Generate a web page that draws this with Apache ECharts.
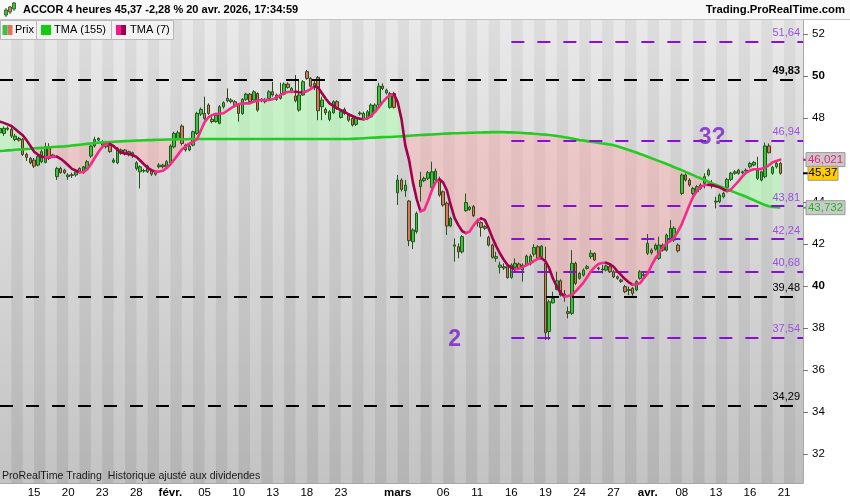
<!DOCTYPE html>
<html><head><meta charset="utf-8">
<script src="https://cdn.jsdelivr.net/npm/echarts@6/dist/echarts.min.js"></script>
<style>html,body{margin:0;padding:0;background:#fff}#c{width:850px;height:500px}</style>
</head><body><div id="c"></div>
<script>
// ---------- DATA ----------
const janDays = [12,13,14,15,16,19,20,21,22,23,26,27,28,29,30];
const febDays = [2,3,4,5,6,9,10,11,12,13,16,17,18,19,20,23,24,25,26,27];
const marDays = [2,3,4,5,6,9,10,11,12,13,16,17,18,19,20,23,24,25,26,27,30,31];
const aprDays = [1,2,7,8,9,10,13,14,15,16,17,20,21,22];
const sessions = ['09:00','13:00','17:00'];
const tickDates = ['01-15','01-20','01-23','01-28','02-02','02-05','02-10','02-13','02-18','02-23','03-02','03-06','03-11','03-16','03-19','03-24','03-27','04-01','04-08','04-13','04-16','04-21'];
const tickTexts = ['15','20','23','28','févr.','05','10','13','18','23','mars','06','11','16','19','24','27','avr.','08','13','16','21'];
const priceTicks = [32,34,36,38,40,42,44,46,48,50,52];

const open = [
47.30,47.27,47.52,47.46,46.98,47.03,46.98,46.27,46.08,46.00,
45.76,45.92,45.89,46.63,46.24,45.21,45.60,45.52,45.21,45.30,
45.29,45.60,45.40,45.60,46.19,46.67,46.95,46.71,46.63,46.71,
45.90,45.87,46.32,46.48,46.24,46.19,45.60,45.44,45.50,45.44,
45.49,45.33,45.68,45.76,45.68,45.87,46.63,46.98,47.62,46.48,
46.48,46.71,47.27,48.19,48.22,48.62,47.94,47.83,47.75,48.54,
48.94,48.78,48.78,48.62,48.22,48.89,49.14,48.86,49.17,48.86,
48.78,48.94,49.25,48.89,49.10,49.14,49.62,49.25,49.05,48.38,
49.10,50.21,49.89,49.49,49.94,48.54,48.41,47.94,48.25,48.78,
48.03,48.41,48.14,47.98,47.70,48.20,47.94,47.98,48.06,48.30,
48.62,49.52,49.20,48.51,49.17,44.44,45.05,44.54,44.05,42.11,
42.59,44.73,45.02,45.13,44.70,45.05,45.08,44.49,43.94,42.86,
41.90,41.87,41.63,43.59,43.65,43.78,43.14,43.02,42.75,42.32,
41.95,41.32,40.89,40.92,40.92,40.41,40.89,41.05,40.76,41.00,
41.05,41.52,41.87,41.40,41.08,37.83,39.20,39.84,40.25,39.62,
38.78,38.70,41.08,40.37,40.52,40.84,41.40,41.56,40.86,40.81,
40.76,40.92,40.68,40.44,40.29,39.97,39.83,39.89,39.81,40.37,
40.54,41.56,41.71,41.75,41.32,41.95,41.71,42.27,42.19,41.95,
44.41,45.29,45.05,44.41,44.49,44.65,44.89,45.29,44.89,44.04,
44.02,44.25,44.70,45.08,45.37,45.37,45.44,45.48,45.68,45.76,
45.13,45.05,45.21,46.67,45.37,45.68,45.84];
const close = [
47.50,47.51,47.47,47.14,47.14,46.95,46.27,46.13,45.87,45.71,
46.16,46.40,46.63,46.08,46.16,45.60,45.40,45.40,45.29,45.27,
45.44,45.44,45.68,45.92,46.67,46.98,47.03,46.87,46.87,46.40,
46.00,46.56,46.48,46.29,46.40,46.35,45.87,45.68,45.48,45.71,
45.33,45.42,45.76,45.68,45.92,46.67,47.27,47.30,46.79,46.71,
46.67,47.35,48.22,48.41,47.98,48.22,47.83,48.14,48.54,48.73,
48.83,48.86,48.57,48.22,48.89,49.14,48.78,49.25,48.38,48.83,
48.89,49.25,49.10,49.10,48.94,49.62,49.46,49.41,48.83,49.10,
49.73,49.89,49.52,49.65,48.35,48.86,48.25,48.30,48.78,48.49,
48.30,48.22,47.90,47.67,48.03,48.24,48.22,48.30,48.62,48.62,
49.52,49.41,49.33,49.17,48.51,45.05,44.60,44.81,42.16,42.67,
43.46,45.05,45.13,45.40,45.44,45.48,44.33,43.86,42.86,43.22,
41.96,41.63,42.35,43.98,43.75,43.35,43.02,42.79,42.83,41.95,
41.37,41.40,41.00,40.86,40.40,41.00,41.08,40.84,41.00,41.43,
41.43,41.84,41.32,41.90,37.78,39.25,39.40,40.25,39.57,39.52,
38.70,41.08,40.13,40.60,40.76,40.92,41.56,41.24,40.82,40.77,
40.95,40.68,40.44,40.37,40.22,39.73,39.79,39.65,40.21,40.68,
40.50,42.03,41.59,41.95,41.95,41.71,42.43,42.75,42.75,41.68,
45.29,45.05,44.81,44.65,44.73,44.81,45.21,45.52,44.76,44.00,
44.33,44.41,45.08,45.37,45.44,45.52,45.40,45.52,45.84,45.89,
45.52,45.44,46.67,46.35,45.65,45.84,45.37];
const low = [
47.20,47.15,47.40,47.05,46.90,46.88,46.20,45.95,45.80,45.62,
45.70,45.85,45.84,46.00,46.10,45.05,45.35,45.33,45.05,45.15,
45.21,45.40,45.35,45.55,46.10,46.60,46.90,46.65,46.55,46.35,
45.85,45.80,46.25,46.22,46.18,46.10,45.50,44.65,45.40,45.38,
45.25,45.25,45.60,45.60,45.62,45.82,46.55,46.92,46.70,46.40,
46.42,46.65,47.20,48.10,47.90,48.15,47.75,47.78,47.70,48.45,
48.75,48.70,48.50,47.83,48.15,48.82,48.70,48.80,48.30,48.75,
48.70,48.88,49.02,48.82,48.88,49.08,49.40,49.18,48.75,48.30,
49.05,49.82,49.45,49.33,47.90,47.90,48.15,47.85,48.20,48.40,
47.98,48.15,47.82,47.60,47.62,48.12,47.88,47.90,48.00,48.25,
48.55,49.33,49.12,48.45,48.45,43.86,44.50,44.25,41.90,41.76,
42.50,44.02,44.95,45.05,44.65,45.00,44.25,43.78,42.43,42.80,
41.16,41.32,41.55,43.54,43.58,43.28,42.83,42.35,42.67,41.88,
41.30,41.16,40.60,40.76,40.35,40.35,40.68,40.76,40.21,40.95,
40.98,41.40,41.25,41.30,37.43,37.43,39.17,39.80,39.50,39.25,
38.46,38.62,40.05,40.30,40.45,40.78,41.30,41.20,40.75,40.60,
40.70,40.62,40.38,40.30,40.15,39.66,39.57,39.54,39.75,40.30,
40.42,41.48,41.50,41.68,41.25,41.64,41.64,42.19,42.10,41.60,
44.33,44.98,44.73,44.33,44.41,44.58,44.65,45.22,44.65,43.70,
43.95,44.18,44.62,45.00,45.30,45.30,45.33,45.29,45.60,45.70,
45.05,44.98,45.13,46.32,45.30,45.60,45.30];
const high = [
47.60,47.60,47.60,47.55,47.25,47.10,47.05,46.35,46.15,46.10,
46.25,46.50,46.83,46.80,46.30,45.68,45.68,45.58,45.37,45.40,
45.50,45.65,45.72,46.00,46.70,47.11,47.08,46.95,46.92,46.80,
46.10,46.62,46.55,46.52,46.45,46.40,45.95,45.75,45.58,45.78,
45.55,45.48,45.85,45.82,46.00,46.75,47.35,47.40,47.70,46.78,
46.75,47.40,48.30,48.50,49.02,48.70,48.05,48.25,48.62,48.80,
49.41,48.95,48.85,48.70,48.95,49.20,49.20,49.33,49.22,48.95,
48.95,49.33,49.73,49.17,49.68,49.70,49.70,49.48,50.05,49.81,
49.81,50.29,49.95,49.81,50.00,49.02,48.50,48.38,48.85,48.85,
48.38,48.50,48.22,48.05,48.10,48.32,48.30,48.38,48.70,48.70,
49.68,49.65,49.40,49.25,49.25,45.29,45.13,45.05,44.10,42.75,
43.55,45.44,45.21,45.48,45.92,45.60,45.21,44.55,44.02,43.30,
42.27,42.03,42.43,44.41,43.82,43.86,43.22,43.08,42.90,42.40,
42.02,41.63,41.16,41.08,41.00,41.08,41.32,41.12,41.08,41.50,
41.52,42.00,41.95,41.95,41.87,39.35,39.73,40.68,40.32,39.81,
39.02,41.71,41.16,40.68,40.84,41.00,41.71,41.60,40.92,41.00,
41.02,41.00,40.75,40.50,40.35,40.05,39.97,39.95,40.28,40.76,
40.62,42.48,41.80,42.03,42.35,42.03,42.50,43.14,42.85,42.03,
45.37,45.37,45.13,44.73,44.81,44.89,45.37,45.60,45.05,44.25,
44.41,44.49,45.15,45.44,45.52,45.58,45.50,45.60,45.92,45.95,
46.16,45.50,46.83,46.79,45.72,45.92,45.92];
const tma155 = [
46.43,46.44,46.46,46.47,46.49,46.50,46.51,46.53,46.54,46.56,
46.57,46.58,46.59,46.61,46.62,46.63,46.64,46.65,46.67,
46.69,46.71,46.73,46.75,46.77,46.79,46.81,46.83,
46.84,46.85,46.86,46.87,46.88,46.89,46.90,46.91,46.92,
46.93,46.93,46.94,46.95,46.95,46.96,46.97,46.97,46.98,
46.98,46.98,46.99,46.99,46.99,47.00,47.00,47.00,47.00,
47.00,47.00,47.00,47.00,47.00,47.00,47.00,47.00,47.00,47.00,
47.00,47.00,47.00,47.00,47.00,47.00,47.00,47.00,47.00,47.00,
47.00,47.00,47.00,47.00,47.00,47.00,47.00,47.00,47.00,47.00,
47.00,47.00,47.00,47.00,47.00,47.00,47.00,47.00,47.00,
47.01,47.02,47.03,47.04,47.05,47.06,47.07,47.08,
47.09,47.10,47.10,47.11,
47.12,47.13,47.14,47.16,47.17,47.18,47.19,
47.20,47.21,47.22,47.23,47.24,47.25,47.26,47.27,
47.28,47.28,47.29,47.29,47.30,
47.30,47.31,47.31,47.32,47.32,47.33,47.33,47.33,
47.33,47.32,47.32,47.31,47.30,47.29,47.28,47.27,
47.25,47.24,47.22,47.21,47.19,47.17,47.15,
47.12,47.09,47.06,47.03,46.99,46.95,
46.93,46.90,46.87,46.85,46.82,46.79,46.77,46.74,46.71,
46.66,46.60,46.54,46.48,46.42,46.36,46.29,46.23,46.16,
46.09,46.02,45.95,45.88,45.81,45.74,45.66,45.59,45.52,
45.44,45.36,45.28,45.20,45.13,45.05,44.97,44.89,
44.82,44.75,44.68,44.61,44.53,44.46,44.39,44.32,44.25,
44.17,44.09,44.01,43.93,43.86,43.80,43.77,43.75,43.73];
const tma7 = [
47.83,47.77,47.70,47.62,47.48,47.33,47.18,46.95,46.68,46.40,
46.26,46.16,46.13,46.13,46.15,46.16,46.06,45.92,45.75,45.58,
45.50,45.42,45.42,45.55,45.80,46.10,46.38,46.62,46.76,46.77,
46.66,46.50,46.36,46.31,46.30,46.24,46.15,45.98,45.80,45.63,
45.52,45.45,45.45,45.49,45.62,45.80,46.02,46.26,46.50,46.65,
46.78,46.88,46.98,47.40,47.80,48.03,48.14,48.19,48.21,48.23,
48.35,48.47,48.60,48.66,48.70,48.70,48.70,48.78,48.84,48.86,
48.86,48.86,48.90,48.97,49.10,49.19,49.24,49.25,49.25,49.23,
49.22,49.28,49.38,49.50,49.45,49.18,48.92,48.70,48.58,48.46,
48.38,48.30,48.18,48.10,48.02,47.97,47.94,47.98,48.10,48.30,
48.52,48.76,48.95,49.10,49.14,48.75,47.95,46.70,46.00,44.95,
44.15,43.56,43.62,44.05,44.55,44.95,45.08,44.93,44.55,43.85,
43.25,42.90,42.62,42.52,42.60,42.88,43.10,43.22,43.15,42.75,
42.30,41.90,41.55,41.25,41.00,40.87,40.80,40.82,40.90,41.00,
41.08,41.20,41.29,41.32,41.18,40.85,40.35,39.98,39.68,39.50,
39.52,39.57,39.75,39.95,40.15,40.42,40.70,40.90,41.05,41.10,
41.11,41.04,40.92,40.70,40.52,40.33,40.18,40.06,40.08,40.13,
40.38,40.60,40.98,41.30,41.58,41.85,42.03,42.15,42.30,42.60,
42.95,43.40,43.85,44.25,44.55,44.72,44.80,44.82,44.81,44.75,
44.70,44.60,44.52,44.60,44.80,45.00,45.22,45.40,45.50,45.56,
45.56,45.58,45.65,45.75,45.90,45.96,46.02];
const levelValues = [51.64, 49.83, 46.94, 43.81, 42.24, 40.68, 39.48, 37.54, 34.29];
const levelKinds  = ['p','k','p','p','p','p','k','p','k'];
const levelBold   = [false,true,false,false,false,false,false,false,false];
const purpleStart = 135;
const annTexts = ['2','3?'];
const annIdx = [120, 188];
const annValues = [37.43, 47.05];
const lastPrice = 45.37, lastTma7 = 46.021, lastTma155 = 43.732;
const lastPriceText = '45,37', lastTma7Text = '46,021', lastTma155Text = '43,732';

// ---------- BUILD ----------
const FONT = '"Liberation Sans", Arial, sans-serif';
const days = [];
janDays.forEach(d=>days.push('01-'+String(d).padStart(2,'0')));
febDays.forEach(d=>days.push('02-'+String(d).padStart(2,'0')));
marDays.forEach(d=>days.push('03-'+String(d).padStart(2,'0')));
aprDays.forEach(d=>days.push('04-'+String(d).padStart(2,'0')));
const cats = [];
days.forEach(d=>sessions.forEach(s=>cats.push(d+' '+s)));
const lastCat = cats.length - 1;
const tickMap = {};
tickDates.forEach((d,i)=>tickMap[d+' 09:00']=tickTexts[i]);
const candles = open.map((o,i)=>[o, close[i], low[i], high[i]]);
const fmt = v => v.toFixed(2).replace('.', ',');

const GREEN_FILL = 'rgba(175,255,175,0.52)';
const RED_FILL = 'rgba(255,165,165,0.40)';

function fillRender(params, api) {
  const n = tma7.length;
  const pa = i => api.coord([i, tma7[i]]);
  const pb = i => api.coord([i, tma155[i]]);
  const runs = [];
  let cur = null;
  for (let i = 0; i < n; i++) {
    const d = tma7[i] - tma155[i];
    const s = d >= 0 ? 1 : -1;
    if (!cur) { cur = {s, top:[pa(i)], bot:[pb(i)]}; continue; }
    if (s === cur.s) { cur.top.push(pa(i)); cur.bot.push(pb(i)); }
    else {
      const dp = tma7[i-1] - tma155[i-1];
      const t = dp / (dp - d);
      const A = pa(i-1), B = pa(i);
      const X = [A[0] + t*(B[0]-A[0]), A[1] + t*(B[1]-A[1])];
      cur.top.push(X); cur.bot.push(X); runs.push(cur);
      cur = {s, top:[X, pa(i)], bot:[X, pb(i)]};
    }
  }
  runs.push(cur);
  return {type:'group', silent:true, children: runs.map(r=>({
    type:'polygon', shape:{points: r.top.concat(r.bot.slice().reverse())},
    style:{fill: r.s > 0 ? GREEN_FILL : RED_FILL}
  }))};
}

function tma7Render(params, api) {
  const n = tma7.length;
  const children = [];
  let pts = [api.coord([0, tma7[0]])];
  let dir = tma7[1] >= tma7[0];
  for (let i = 1; i < n; i++) {
    const d = tma7[i] >= tma7[i-1];
    if (d !== dir) {
      children.push({pts, dir});
      pts = [api.coord([i-1, tma7[i-1]])];
      dir = d;
    }
    pts.push(api.coord([i, tma7[i]]));
  }
  children.push({pts, dir});
  return {type:'group', silent:true, children: children.map(c=>({
    type:'polyline', shape:{points:c.pts},
    style:{stroke: c.dir ? '#f52a8a' : '#a3004f', lineWidth:2.6, lineJoin:'round', lineCap:'round', fill:null}
  }))};
}

const levelLines = levelValues.map((v,i)=>{
  const purple = levelKinds[i] === 'p';
  return [
    {coord:[purple ? purpleStart : 0, v],
     lineStyle:{color: purple ? '#8a0fd6' : '#000', width:2, type:[13,13]},
     label:{show:true, position:'insideEndTop', distance:3, formatter: fmt(v),
            color: purple ? '#9a52dc' : '#000', fontSize:11, fontFamily:FONT,
            fontWeight: levelBold[i] ? 'bold' : 'normal'}},
    {coord:[lastCat, v]}
  ];
});

const chart = echarts.init(document.getElementById('c'), null, {renderer:'canvas'});
chart.setOption({
  animation:false,
  backgroundColor:'#ffffff',
  grid:{left:0, right:47, top:20, bottom:17, show:true, borderWidth:0,
    backgroundColor:{type:'linear', x:0, y:0, x2:0, y2:1,
      colorStops:[{offset:0,color:'#e7e7e7'},{offset:1,color:'#bdbdbd'}]}},
  xAxis:{type:'category', data:cats, boundaryGap:false,
    axisLine:{show:true, lineStyle:{color:'#a8a8a8'}},
    axisTick:{show:false},
    axisLabel:{interval:(idx,val)=>tickMap[val]!==undefined, margin:4, color:'#000', fontSize:11.5, fontFamily:FONT,
      formatter:(val)=>{const t=tickMap[val]; if(t===undefined) return ''; return /[a-z]/.test(t) ? '{b|'+t+'}' : t;},
      rich:{b:{fontWeight:'bold', fontSize:11.5, fontFamily:FONT, color:'#000'}}},
    splitLine:{show:false},
    splitArea:{show:true, interval:2, areaStyle:{color:['rgba(255,255,255,0.10)','rgba(0,0,0,0.045)']}}
  },
  yAxis:{type:'value', position:'right', min:30.62, max:52.67, scale:true,
    axisLine:{show:true, lineStyle:{color:'#a8a8a8'}},
    axisTick:{show:true, length:5, customValues:priceTicks, lineStyle:{color:'#777'}},
    axisLabel:{customValues:priceTicks, margin:9, color:'#000', fontSize:11.5, fontFamily:FONT,
      formatter:v=> (v===40||v===50) ? '{b|'+v+'}' : String(v),
      rich:{b:{fontWeight:'bold', fontSize:11.5, fontFamily:FONT, color:'#000'}}},
    splitLine:{show:false}
  },
  series:[
    {type:'custom', name:'fill', z:1, renderItem:fillRender, data:[[0, tma7[0]]], encode:{x:0,y:1}, silent:true},
    {type:'line', name:'levels', z:2, data:[], symbol:'none',
      markLine:{silent:true, symbol:['none','none'], animation:false, data:levelLines}},
    {type:'candlestick', name:'Prix', z:3, data:candles, barWidth:3,
      itemStyle:{color:'#3cc23c', color0:'#e5705c', borderColor:'#1f5a1c', borderColor0:'#2e4a1c', borderWidth:1}},
    {type:'line', name:'TMA (155)', z:4, data:tma155, symbol:'none', silent:true,
      lineStyle:{color:'#22cc22', width:2.6}},
    {type:'custom', name:'TMA (7)', z:5, renderItem:tma7Render, data:[[0, tma7[0]]], encode:{x:0,y:1}, silent:true},
    {type:'scatter', name:'ann', z:6, symbolSize:1, itemStyle:{color:'rgba(0,0,0,0)'},
      data: annIdx.map((x,i)=>[x, annValues[i]]),
      label:{show:true, position:'inside', formatter:p=>annTexts[p.dataIndex], color:'#7a1ec8', fontSize:23, fontWeight:'bold', fontFamily:FONT}}
  ]
});

// ---------- OVERLAY (header, legend, price tags) ----------
const yPix = v => chart.convertToPixel({yAxisIndex:0}, v);
function tag(v, text, fg, bg, x0, w, tickColor) {
  const y = yPix(v);
  return [
    {type:'line', shape:{x1:803, y1:y, x2:809, y2:y}, style:{stroke:tickColor, lineWidth:2}, z:100},
    {type:'rect', shape:{x:x0, y:y-7, width:w, height:14}, style:{fill:bg, stroke:'#9a9a9a', lineWidth:1}, z:100},
    {type:'text', x:x0+w/2, y:y, style:{text:text, fill:fg, font:'11.5px '+FONT, align:'center', verticalAlign:'middle'}, z:101}
  ];
}
const g = [
  {type:'rect', shape:{x:0,y:0,width:850,height:20}, style:{fill:'#f8f8f8'}, z:90},
  {type:'line', shape:{x1:0,y1:19.5,x2:850,y2:19.5}, style:{stroke:'#c4c4c4', lineWidth:1}, z:91},
  // title icon
  {type:'line', shape:{x1:6,y1:8,x2:6,y2:17}, style:{stroke:'#1f5a1c', lineWidth:1}, z:92},
  {type:'rect', shape:{x:4.5,y:10,width:3,height:5}, style:{fill:'#3cc23c', stroke:'#1f5a1c', lineWidth:0.8}, z:93},
  {type:'line', shape:{x1:10,y1:6,x2:10,y2:14}, style:{stroke:'#1f5a1c', lineWidth:1}, z:92},
  {type:'rect', shape:{x:8.5,y:7,width:3,height:5}, style:{fill:'#e5705c', stroke:'#1f5a1c', lineWidth:0.8}, z:93},
  {type:'line', shape:{x1:14,y1:2,x2:14,y2:11}, style:{stroke:'#1f5a1c', lineWidth:1}, z:92},
  {type:'rect', shape:{x:12.5,y:3,width:3,height:6}, style:{fill:'#3cc23c', stroke:'#1f5a1c', lineWidth:0.8}, z:93},
  {type:'text', x:23, y:10, style:{text:'ACCOR 4 heures 45,37 -2,28 % 20 avr. 2026, 17:34:59', fill:'#000', font:'bold 11px '+FONT, verticalAlign:'middle'}, z:93},
  {type:'text', x:845, y:10, style:{text:'Trading.ProRealTime.com', fill:'#000', font:'bold 11.3px '+FONT, align:'right', verticalAlign:'middle'}, z:93},
  // legend boxes
  {type:'rect', shape:{x:0.5,y:20.5,width:36,height:19}, style:{fill:'#f2f2f2', stroke:'#b8b8b8', lineWidth:1}, z:92},
  {type:'rect', shape:{x:2.5,y:25,width:5,height:10}, style:{fill:'#3cc23c'}, z:93},
  {type:'rect', shape:{x:7.5,y:25,width:5,height:10}, style:{fill:'#e5705c'}, z:93},
  {type:'text', x:15, y:30, style:{text:'Prix', fill:'#000', font:'11px '+FONT, verticalAlign:'middle'}, z:93},
  {type:'rect', shape:{x:36.5,y:20.5,width:75,height:19}, style:{fill:'#f2f2f2', stroke:'#b8b8b8', lineWidth:1}, z:92},
  {type:'rect', shape:{x:41,y:25,width:10,height:10}, style:{fill:'#11cc11'}, z:93},
  {type:'text', x:54, y:30, style:{text:'TMA (155)', fill:'#000', font:'11px '+FONT, verticalAlign:'middle'}, z:93},
  {type:'rect', shape:{x:111.5,y:20.5,width:62,height:19}, style:{fill:'#f2f2f2', stroke:'#b8b8b8', lineWidth:1}, z:92},
  {type:'rect', shape:{x:116,y:25,width:5,height:10}, style:{fill:'#f21a86'}, z:93},
  {type:'rect', shape:{x:121,y:25,width:5,height:10}, style:{fill:'#9c0050'}, z:93},
  {type:'text', x:130, y:30, style:{text:'TMA (7)', fill:'#000', font:'11px '+FONT, verticalAlign:'middle'}, z:93},
  // footer note
  {type:'text', x:2, y:476, style:{text:'ProRealTime Trading  Historique ajusté aux dividendes', fill:'#1a1a1a', font:'10.6px '+FONT, verticalAlign:'middle'}, z:93}
].concat(
  tag(lastTma7, lastTma7Text, '#e8227a', '#c9c9c9', 806, 39, '#e8227a'),
  tag(lastPrice, lastPriceText, '#000', '#ffcc00', 808, 30, '#000'),
  tag(lastTma155, lastTma155Text, '#1fb81f', '#c9c9c9', 806, 39, '#22cc22')
);
chart.setOption({graphic:g});
</script></body></html>
